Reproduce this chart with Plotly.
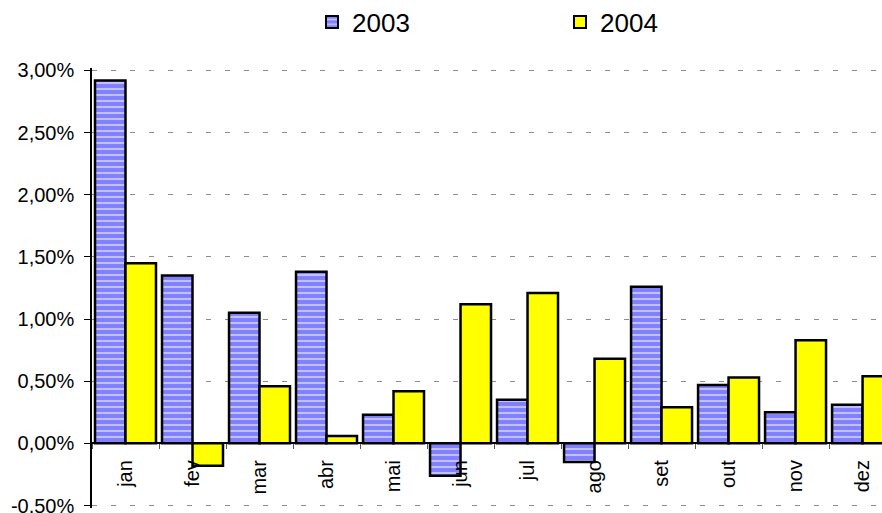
import plotly.graph_objects as go

months = ["jan", "fev", "mar", "abr", "mai", "jun", "jul", "ago", "set", "out", "nov", "dez"]
v2003 = [2.92, 1.35, 1.05, 1.38, 0.23, -0.26, 0.35, -0.15, 1.26, 0.47, 0.25, 0.31]
v2004 = [1.45, -0.18, 0.46, 0.06, 0.42, 1.12, 1.21, 0.68, 0.29, 0.53, 0.83, 0.54]
ytick_vals = [-0.5, 0.0, 0.5, 1.0, 1.5, 2.0, 2.5, 3.0]
ytick_text = ["-0,50%", "0,00%", "0,50%", "1,00%", "1,50%", "2,00%", "2,50%", "3,00%"]

FONT = "Liberation Sans, Arial, sans-serif"

fig = go.Figure()
fig.add_trace(go.Bar(
    x=months, y=v2003, name="2003",
    marker=dict(
        color="#8080FF",
        line=dict(color="black", width=2.5),
        pattern=dict(shape="-", fgcolor="white", bgcolor="#8080FF", size=6, solidity=0.35, fillmode="overlay"),
    ),
))
fig.add_trace(go.Bar(
    x=months, y=v2004, name="2004",
    marker=dict(
        color="#FFFF00",
        line=dict(color="black", width=2.5),
    ),
))

W, H = 882, 513
ml, mr, mt, mb = 92, 0, 68, 5
plot_h = H - mt - mb
y_lo, y_hi = -0.52, 3.02
zero_frac = (0 - y_lo) / (y_hi - y_lo)

fig.update_layout(
    width=W, height=H,
    margin=dict(l=ml, r=mr, t=mt, b=mb, pad=0, autoexpand=False),
    paper_bgcolor="white", plot_bgcolor="white",
    barmode="group", bargap=0.09, bargroupgap=0,
    font=dict(family=FONT, size=20, color="black"),
    showlegend=True,
    legend=dict(
        orientation="h", x=(312 - ml) / (W - ml - mr), xanchor="left",
        y=1 + (mt - 22) / plot_h, yanchor="middle",
        font=dict(size=26, family=FONT), entrywidth=203, entrywidthmode="pixels",
        itemsizing="constant", bgcolor="rgba(0,0,0,0)",
    ),
    xaxis=dict(
        type="category", range=[-0.5, 11.29], automargin=False,
        anchor="free", position=zero_frac,
        showline=True, linecolor="black", linewidth=1.5,
        ticks="outside", ticklen=5, tickcolor="#555", tickson="boundaries",
        tickangle=-90, tickfont=dict(size=20, family=FONT),
        ticklabelstandoff=8,
        showgrid=False, zeroline=False,
    ),
    yaxis=dict(
        range=[y_lo, y_hi], tickvals=ytick_vals, ticktext=ytick_text, automargin=False,
        showline=True, linecolor="black", linewidth=1.5, zeroline=False,
        ticks="outside", ticklen=6, tickcolor="black",
        showgrid=True, gridcolor="#8c8c8c", griddash="5px,14px", gridwidth=1,
        tickfont=dict(size=20, family=FONT),
        ticklabelstandoff=6, ticklabeloverflow="allow",
    ),
)

fig.write_html("out.html", config={"displayModeBar": False},
               post_script="document.body.style.margin='0';")
